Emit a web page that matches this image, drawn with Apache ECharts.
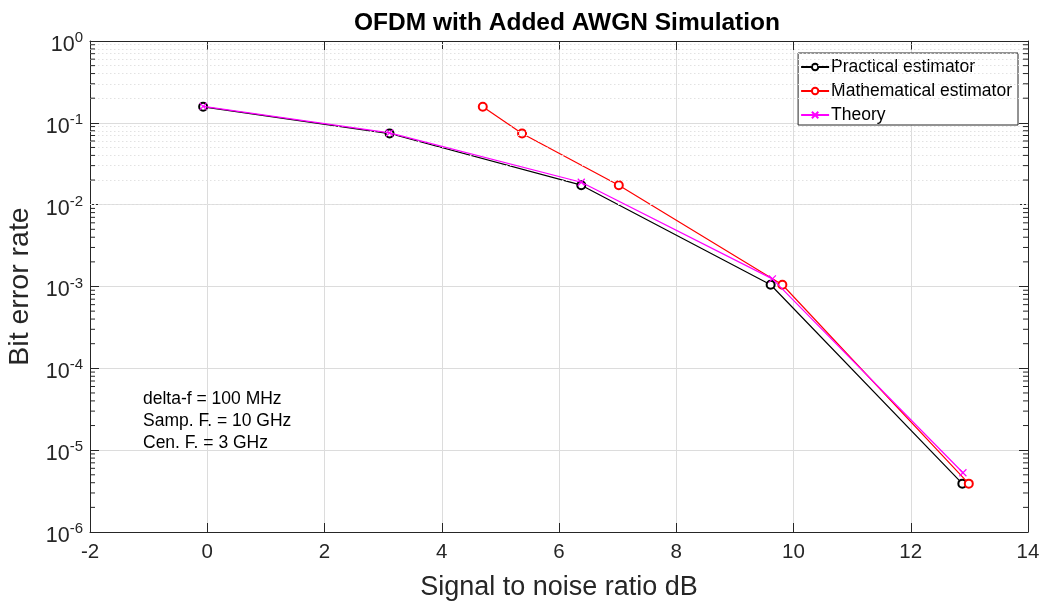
<!DOCTYPE html>
<html><head><meta charset="utf-8">
<script src="https://cdn.jsdelivr.net/npm/echarts@6/dist/echarts.min.js"></script>
<style>html,body{margin:0;padding:0;background:#fff}#c{width:1045px;height:605px}</style>
</head><body><div id="c"></div>
<script>
// ---- data ----
const snrPractical = [-0.07, 3.11, 6.38, 9.61, 12.88];
const berPractical = [0.157, 0.074, 0.0173, 1.05e-3, 3.9e-6];
const snrMath = [4.70, 5.37, 7.02, 9.81, 12.99];
const berMath = [0.157, 0.074, 0.0173, 1.05e-3, 3.9e-6];
const snrTheory = [-0.07, 3.11, 6.38, 9.64, 12.89];
const berTheory = [0.159, 0.0755, 0.0188, 1.24e-3, 5.3e-6];
const seriesNames = ['Practical estimator', 'Mathematical estimator', 'Theory'];
const xTickValues = [-2, 0, 2, 4, 6, 8, 10, 12, 14];
const yDecades = [-6, -5, -4, -3, -2, -1, 0];
const notes = ['delta-f = 100 MHz', 'Samp. F. = 10 GHz', 'Cen. F. = 3 GHz'];
const titleText = 'OFDM with Added AWGN Simulation';
const xLabel = 'Signal to noise ratio dB';
const yLabel = 'Bit error rate';

const FONT = 'Liberation Sans, Arial, Helvetica, sans-serif';
const AX = '#262626';
const GRID = '#dcdcdc';
const xMin = xTickValues[0], xMax = xTickValues[xTickValues.length - 1];
const yMin = Math.pow(10, yDecades[0]), yMax = Math.pow(10, yDecades[yDecades.length - 1]);

const pairs = (xs, ys) => xs.map((x, i) => [x, ys[i]]);

// minor grid / minor ticks (2..9 x 10^k)
const minorVals = [];
for (let k = yDecades[0]; k < yDecades[yDecades.length - 1]; k++) {
  for (let m = 2; m <= 9; m++) minorVals.push(m * Math.pow(10, k));
}
const minorGrid = minorVals.map(v => ({ yAxis: v }));

const chart = echarts.init(document.getElementById('c'), null, { renderer: 'canvas' });

const yLabelFmt = v => '{b|10}{s|' + Math.round(Math.log10(v)) + '}';

chart.setOption({
  animation: false,
  backgroundColor: '#ffffff',
  textStyle: { fontFamily: FONT },
  title: {
    text: titleText, left: 562, top: 6, textAlign: 'center',
    textStyle: { fontFamily: FONT, fontSize: 24.5, fontWeight: 'bold', color: '#000' }
  },
  grid: { left: 90, right: 17, top: 41, bottom: 73, containLabel: false, outerBoundsMode: 'none' },
  legend: {
    orient: 'vertical', right: 27, top: 53,
    itemWidth: 28, itemHeight: 8, itemGap: 6,
    padding: [5, 6, 1, 2],
    borderColor: AX, borderWidth: 1, backgroundColor: '#fff',
    textStyle: { fontFamily: FONT, fontSize: 17.5, color: '#000', padding: [0, 0, 0, -3] },
    data: seriesNames
  },
  xAxis: [{
    type: 'value', min: xMin, max: xMax, interval: 2, position: 'bottom',
    name: xLabel, nameLocation: 'middle', nameGap: 42,
    nameTextStyle: { fontFamily: FONT, fontSize: 27, color: AX },
    axisLine: { show: true, onZero: false, lineStyle: { color: AX, width: 1 } },
    axisTick: { show: true, inside: true, length: 9, lineStyle: { color: AX } },
    axisLabel: { fontFamily: FONT, fontSize: 20.5, color: AX, margin: 10 },
    splitLine: { show: true, lineStyle: { color: GRID, width: 1 } }
  }, {
    type: 'value', min: xMin, max: xMax, interval: 2, position: 'top',
    axisLine: { show: true, onZero: false, lineStyle: { color: AX, width: 1 } },
    axisTick: { show: true, inside: true, length: 9, lineStyle: { color: AX } },
    axisLabel: { show: false }, splitLine: { show: false }
  }],
  yAxis: [{
    type: 'log', logBase: 10, min: yMin, max: yMax, splitNumber: 6, position: 'left',
    name: yLabel, nameLocation: 'middle', nameGap: 52, nameRotate: 90,
    nameTextStyle: { fontFamily: FONT, fontSize: 28.5, color: AX },
    axisLine: { show: true, onZero: false, lineStyle: { color: AX, width: 1 } },
    axisTick: { show: true, inside: true, length: 9, lineStyle: { color: AX } },
    axisLabel: {
      margin: 7, formatter: yLabelFmt,
      rich: {
        b: { fontFamily: FONT, fontSize: 21.5, color: AX, padding: [8, 0, 0, 0] },
        s: { fontFamily: FONT, fontSize: 15, color: AX, padding: [0, 0, 6, 0] }
      }
    },
    splitLine: { show: true, lineStyle: { color: GRID, width: 1 } }
  }, {
    type: 'log', logBase: 10, min: yMin, max: yMax, splitNumber: 6, position: 'right',
    axisLine: { show: true, onZero: false, lineStyle: { color: AX, width: 1 } },
    axisTick: { show: true, inside: true, length: 9, lineStyle: { color: AX } },
    axisLabel: { show: false }, splitLine: { show: false }
  }],
  graphic: [{
    type: 'text', left: 143, top: 388, z: 10,
    style: { text: notes.join('\n'), font: '17.5px ' + FONT, fill: '#000', lineHeight: 22 }
  }],
  series: [
    {
      name: '_minor', type: 'line', data: [], silent: true, xAxisIndex: 0, yAxisIndex: 0,
      markLine: {
        silent: true, symbol: ['none', 'none'], label: { show: false }, animation: false,
        lineStyle: { color: '#e2e2e2', type: [1.5, 2.5], width: 1 },
        data: minorGrid
      }
    },
    {
      name: '_minorTicks', type: 'custom', silent: true, xAxisIndex: 0, yAxisIndex: 0,
      data: minorVals.map(v => [xMin, v]), z: 6, clip: false,
      renderItem: function (params, api) {
        const v = api.value(1);
        const p = api.coord([xMin, v]);
        const q = api.coord([xMax, v]);
        const st = { stroke: AX, lineWidth: 1 };
        return {
          type: 'group', children: [
            { type: 'line', shape: { x1: p[0], y1: p[1], x2: p[0] + 5, y2: p[1] }, style: st },
            { type: 'line', shape: { x1: q[0] - 5, y1: q[1], x2: q[0], y2: q[1] }, style: st }
          ]
        };
      }
    },
    {
      name: seriesNames[0], type: 'line', data: pairs(snrPractical, berPractical),
      color: '#000000', symbol: 'emptyCircle', symbolSize: 8,
      lineStyle: { color: '#000', width: 1.2 },
      itemStyle: { color: '#000', borderWidth: 1.2 }, z: 3
    },
    {
      name: seriesNames[1], type: 'line', data: pairs(snrMath, berMath),
      color: '#ff0000', symbol: 'emptyCircle', symbolSize: 8,
      lineStyle: { color: '#ff0000', width: 1.2 },
      itemStyle: { color: '#ff0000', borderWidth: 1.2 }, z: 4
    },
    {
      name: seriesNames[2], type: 'line', data: pairs(snrTheory, berTheory),
      color: '#ff00ff', symbol: 'path://M0,0L10,10M10,0L0,10', symbolSize: 7,
      lineStyle: { color: '#ff00ff', width: 1.2 },
      itemStyle: { color: '#ff00ff', borderColor: '#ff00ff', borderWidth: 1.2 }, z: 5
    }
  ]
});
</script></body></html>
